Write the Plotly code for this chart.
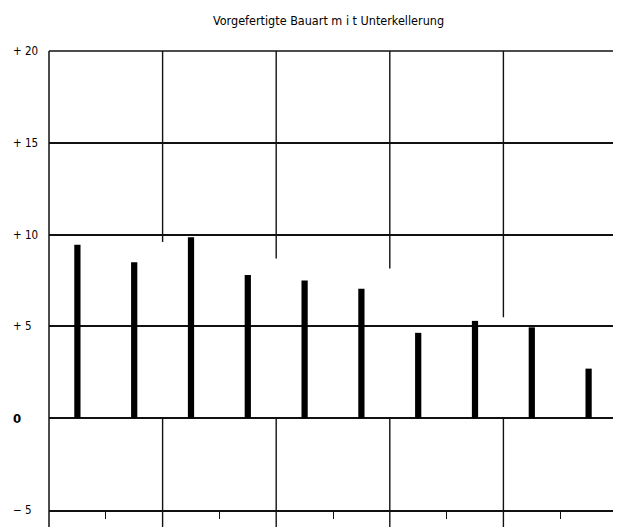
import plotly.graph_objects as go

# Data
categories = [1, 2, 3, 4, 5, 6, 7, 8, 9, 10]
values = [9.45, 8.5, 9.85, 7.8, 7.5, 7.05, 4.65, 5.3, 4.95, 2.7]
y_tick_vals = [20, 15, 10, 5, 0, -5]
y_tick_text = ["+ 20", "+ 15", "+ 10", "+ 5", "<b>0</b>", "\u2212 5"]
title_text = "Vorgefertigte Bauart m i t Unterkellerung"

FONT = "DejaVu Sans Condensed, Liberation Sans Narrow, sans-serif"
LC = "#111111"

# figure is offset by the page's 8px body margin
W, H = 613, 521
ML, MR, MT, MB = 41, 4, 43, 19
PW, PH = W - ML - MR, H - MT - MB

fig = go.Figure()
fig.add_trace(go.Bar(x=categories, y=values, width=0.11,
                     marker=dict(color="#000000", line=dict(width=0)),
                     hoverinfo="skip"))

boundaries = [2.5, 4.5, 6.5, 8.5]
upper_ends = [9.6, 8.7, 8.15, 5.5]
ext = -17.0 / PH
shapes = []
for b, e in zip(boundaries, upper_ends):
    shapes.append(dict(type="line", xref="x", yref="y", x0=b, x1=b, y0=20, y1=e,
                       line=dict(color=LC, width=1.4)))
    shapes.append(dict(type="line", xref="x", yref="paper", x0=b, x1=b, y0=0.2, y1=ext,
                       line=dict(color=LC, width=1.4)))
for xp in [0, 1]:
    shapes.append(dict(type="line", xref="paper", yref="paper", x0=xp, x1=xp, y0=1, y1=ext,
                       line=dict(color=LC, width=1.5)))
# top frame line
shapes.append(dict(type="line", xref="paper", yref="paper", x0=0, x1=1, y0=1, y1=1,
                   line=dict(color=LC, width=1.5)))

annotations = [dict(text=t, x=(3 - ML) / PW, xref="paper", y=v, yref="y", xanchor="left",
                    yanchor="middle", showarrow=False,
                    font=dict(family=FONT, size=13 if v == 0 else 11.5, color="#000"))
               for v, t in zip(y_tick_vals, y_tick_text)]
annotations.append(dict(text=title_text, x=(320 - ML) / PW, xref="paper",
                        y=1 + (MT - 12) / PH, yref="paper",
                        yanchor="middle", xanchor="center", showarrow=False,
                        font=dict(family=FONT, size=12.5, color="#000")))

fig.update_layout(
    width=W, height=H,
    margin=dict(l=ML, r=MR, t=MT, b=MB),
    paper_bgcolor="white", plot_bgcolor="white",
    showlegend=False,
    shapes=shapes,
    annotations=annotations,
    xaxis=dict(range=[0.5, 10.5], showgrid=False, zeroline=False, showline=True,
               linecolor=LC, linewidth=1.5,
               tickmode="array", tickvals=[1.5, 3.5, 5.5, 7.5, 9.5], ticks="outside",
               ticklen=7, tickwidth=1.2, tickcolor=LC, showticklabels=False),
    yaxis=dict(range=[-5, 20], tickmode="array", tickvals=y_tick_vals, showticklabels=False,
               showgrid=True, gridcolor=LC, gridwidth=1.5, zeroline=True, zerolinecolor=LC,
               zerolinewidth=1.7, showline=False),
)

fig.write_html("out.html")
